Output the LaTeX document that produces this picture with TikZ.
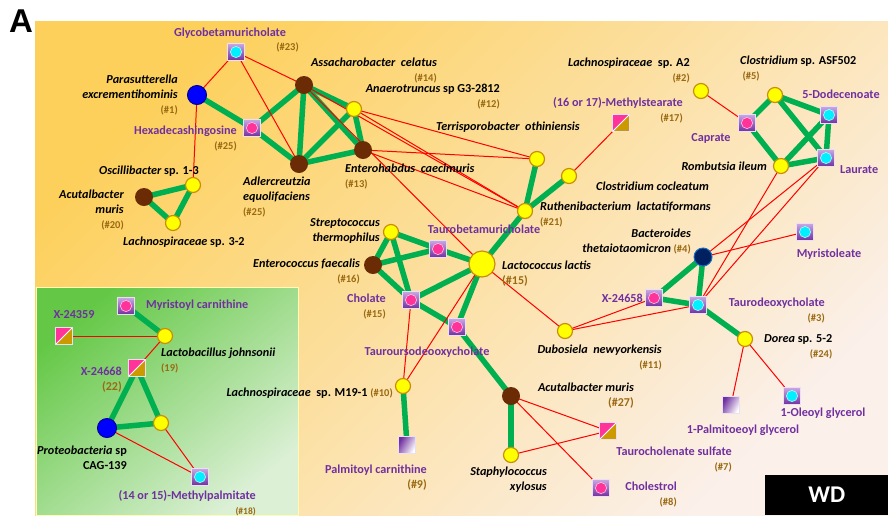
\documentclass[tikz,border=0pt]{standalone}
\usepackage{fontspec}
\setmainfont{Carlito}
\newfontfamily\headfont{Liberation Sans}
\pgfdeclarelayer{bg}
\pgfdeclarelayer{edges}
\pgfsetlayers{bg,edges,main}
\definecolor{gold}{HTML}{C8900A}
\definecolor{yel}{HTML}{FFFF00}
\definecolor{brn}{HTML}{6B2C05}
\definecolor{purp}{HTML}{7030A0}
\definecolor{lpurp}{HTML}{C9A6E4}
\definecolor{mag}{HTML}{FF3399}
\definecolor{cyn}{HTML}{00F0FF}
\definecolor{numc}{HTML}{9A6A12}
\definecolor{grn}{HTML}{00B050}
\definecolor{redl}{HTML}{FF0000}
\definecolor{navy}{HTML}{002060}
\definecolor{splitgold}{HTML}{CC9900}
\newcommand{\nm}[1]{{\color{numc}\fontsize{10.5}{15}\selectfont\upshape #1}}
\newcommand{\nmb}[1]{{\color{numc}\fontsize{12}{15}\selectfont\upshape #1}}
\begin{document}
\begin{tikzpicture}[x=1pt,y=-1pt,
  yc/.style={circle,fill=yel,draw=gold,line width=1.2pt,minimum size=15pt,inner sep=0},
  bc/.style={circle,fill=brn,minimum size=18pt,inner sep=0},
  bluec/.style={circle,fill=blue,draw=blue!60!black,line width=1pt,minimum size=19pt,inner sep=0},
  navyc/.style={circle,fill=navy,draw=cyan!50!blue,line width=1pt,minimum size=18pt,inner sep=0},
  sqbase/.style={rectangle,minimum size=17pt,inner sep=0,draw=white!85!purp,line width=0.8pt},
  sqm/.style={sqbase,top color=lpurp,bottom color=purp,
    path picture={\fill[mag,draw=white!70!mag,line width=0.6pt] (path picture bounding box.center) circle (5.6pt);}},
  sqc/.style={sqbase,top color=lpurp,bottom color=purp,
    path picture={\fill[cyn,draw=white!70!cyn,line width=0.6pt] (path picture bounding box.center) circle (5.6pt);}},
  sqp/.style={sqbase,left color=purp,right color=white,shading angle=60},
  sqs/.style={sqbase,fill=purp,
    path picture={
      \fill[mag] (path picture bounding box.north west) -- (path picture bounding box.north east) -- (path picture bounding box.south west) -- cycle;
      \fill[splitgold] (path picture bounding box.north east) -- (path picture bounding box.south east) -- (path picture bounding box.south west) -- cycle;
      \draw[white,line width=0.8pt] (path picture bounding box.south west) -- (path picture bounding box.north east);}},
  ge/.style={draw=grn,line width=5.5pt},
  re/.style={draw=redl,line width=1pt},
  bac/.style={font=\fontsize{12.2}{15}\selectfont\bfseries\itshape,inner sep=0,text=black},
  met/.style={font=\fontsize{12.2}{15}\selectfont\bfseries,inner sep=0,text=purp},
  num/.style={font=\fontsize{10.5}{15}\selectfont\bfseries,inner sep=0,text=numc},
]
\useasboundingbox (0,0) rectangle (888,515);
\begin{pgfonlayer}{bg}
  \fill[white] (0,0) rectangle (888,515);
  \shade[top color={rgb,255:red,253;green,208;blue,92},bottom color={rgb,255:red,251;green,240;blue,234},shading angle=45] (35,21) rectangle (888,515);
  \shade[top color={rgb,255:red,100;green,200;blue,70},bottom color={rgb,255:red,220;green,240;blue,214},shading angle=40] (36,287) rectangle (298,515);
  \draw[white!70!yellow,line width=0.6pt] (36,287) rectangle (298,515);
\end{pgfonlayer}

\node[font=\headfont\fontsize{33}{33}\selectfont\bfseries,inner sep=0] (letA) at (21,21) {A};
\node[fill=black,minimum width=123pt,minimum height=40pt,inner sep=0,anchor=north west,text=white,font=\fontsize{24}{24}\selectfont\bfseries] (wd) at (765,475) {WD};

% ---- nodes ----
\node[bluec] (para) at (197,95) {};
\node[sqc] (glyco) at (236,52) {};
\node[sqm] (hexa) at (252,128) {};
\node[bc] (assa) at (304,85) {};
\node[yc] (anae) at (354,109) {};
\node[bc] (entero) at (363,150) {};
\node[bc] (adler) at (299,164) {};
\node[yc] (osci) at (193,185) {};
\node[bc] (acut20) at (144,197) {};
\node[yc] (lach32) at (173,223) {};
\node[yc] (terri) at (537,159) {};
\node[yc] (clocl) at (569,176) {};
\node[yc] (ruth) at (525,211) {};
\node[sqs] (mstear) at (621,123) {};
\node[yc] (lacA2) at (701,91) {};
\node[yc] (asf) at (775,95) {};
\node[sqm] (caprate) at (747,123) {};
\node[sqc] (dodec) at (829,115) {};
\node[sqc] (laurate) at (826,158) {};
\node[yc] (romb) at (781,166) {};
\node[yc] (strep) at (391,232) {};
\node[bc] (enteroc) at (373,265) {};
\node[sqm] (tbmc) at (438,249) {};
\node[yc,minimum size=26pt] (lacto) at (482,264) {};
\node[sqm] (cholate) at (411,300) {};
\node[sqm] (tudca) at (457,327) {};
\node[navyc] (bact) at (703,257) {};
\node[sqc] (myrol) at (805,232) {};
\node[sqm] (x24658) at (654,298) {};
\node[sqc] (tdca) at (698,305) {};
\node[yc] (dorea) at (745,339) {};
\node[sqp] (palgly) at (731,405) {};
\node[sqc] (olegly) at (792,396) {};
\node[yc] (dubo) at (565,331) {};
\node[bc] (acut27) at (511,396) {};
\node[yc] (staph) at (511,455) {};
\node[sqs] (tchsulf) at (608,431) {};
\node[sqm] (chol) at (601,488) {};
\node[yc] (m191) at (403,386) {};
\node[sqp] (palcar) at (407,445) {};
\node[sqm] (myrcar) at (126,306) {};
\node[sqs] (x24359) at (64,336) {};
\node[yc] (lactob) at (165,336) {};
\node[sqs] (x24668) at (137,368) {};
\node[bluec] (proteo) at (107,428) {};
\node[yc] (ylow) at (161,423) {};
\node[sqc] (mpalm) at (200,477) {};

% ---- edges ----
\begin{pgfonlayer}{edges}
\foreach \a/\b in {para/hexa,hexa/assa,hexa/adler,assa/adler,assa/anae,assa/entero,anae/adler,anae/entero,adler/entero,
  osci/acut20,osci/lach32,acut20/lach32,terri/ruth,clocl/ruth,ruth/lacto,asf/caprate,asf/dodec,asf/laurate,caprate/romb,
  romb/dodec,romb/laurate,dodec/laurate,strep/tbmc,strep/enteroc,strep/cholate,enteroc/tbmc,enteroc/cholate,tbmc/lacto,
  cholate/lacto,cholate/tudca,lacto/tudca,tudca/acut27,acut27/staph,m191/palcar,bact/x24658,bact/tdca,x24658/tdca,tdca/dorea,
  myrcar/lactob,x24668/proteo,x24668/ylow,proteo/ylow}
  \draw[ge] (\a.center) -- (\b.center);
\foreach \a/\b in {glyco/para,glyco/assa,glyco/adler,para/osci,assa/ruth,assa/lacto,anae/terri,anae/ruth,entero/terri,entero/ruth,
  lacto/dubo,lacto/m191,cholate/m191,dubo/x24658,dubo/tdca,bact/myrol,bact/laurate,romb/tdca,laurate/tdca,dorea/palgly,
  dorea/olegly,acut27/tchsulf,acut27/chol,staph/tchsulf,lacA2/caprate,mstear/clocl,x24359/lactob,x24668/lactob,proteo/mpalm,ylow/mpalm}
  \draw[re] (\a.center) -- (\b.center);
\end{pgfonlayer}

% ---- labels ----
\node[bac,align=right,anchor=east] (lpara) at (178,95) {Parasutterella\\excrementihominis\\\nm{(\#1)}};
\node[met] (lglyco) at (230,33) {Glycobetamuricholate};
\node[num,anchor=east] (nglyco) at (299,47) {(\#23)};
\node[met,align=right,anchor=east] (lhexa) at (237,139) {Hexadecashingosine\\\nm{(\#25)}};
\node[bac,align=right,anchor=east] (lassa) at (437,71) {Assacharobacter\ \ celatus\\\nm{(\#14)}};
\node[bac,align=right,anchor=east] (lanae) at (500,97) {Anaerotruncus {\upshape sp G3-2812}\\\nm{(\#12)}};
\node[bac,anchor=west] (lterri) at (436,127) {Terrisporobacter\ \ othiniensis};
\node[bac,align=left,anchor=west] (lentero) at (345,177) {Enterohabdus\ \ caecimuris\\\nm{(\#13)}};
\node[bac,align=left,anchor=west] (ladler) at (243,197) {Adlercreutzia\\equolifaciens\\\nm{(\#25)}};
\node[bac,anchor=west] (losci) at (99,171) {Oscillibacter\ {\upshape sp. 1-3}};
\node[bac,align=right,anchor=east] (lacut20) at (124,210) {Acutalbacter\\muris\\\nm{(\#20)}};
\node[bac,anchor=west] (llach32) at (123,242) {Lachnospiraceae\ {\upshape sp. 3-2}};
\node[bac,align=right,anchor=east] (llacA2) at (690,71) {Lachnospiraceae\ \ {\upshape sp. A2}\\\nm{(\#2)}};
\node[bac,align=left,anchor=west] (lasf) at (740,69) {Clostridium {\upshape sp. ASF502}\\\nm{\ (\#5)}};
\node[bac,anchor=east] (lromb) at (767,166) {Rombutsia\ ileum};
\node[bac,anchor=west] (lclocl) at (596,186) {Clostridium\ cocleatum};
\node[bac,align=left,anchor=west] (lruth) at (540,215) {Ruthenibacterium\ \ lactatiformans\\\nm{(\#21)}};
\node[bac,align=right,anchor=east] (lstrep) at (380,231) {Streptococcus\\thermophilus};
\node[bac,align=right,anchor=east] (lenteroc) at (360,272) {Enterococcus faecalis\\\nm{(\#16)}};
\node[bac,align=left,anchor=west] (llacto) at (502,274) {Lactococcus lactis\\\nmb{(\#15)}};
\node[bac,align=right,anchor=east] (lbact) at (691,242) {Bacteroides\\thetaiotaomicron \nm{(\#4)}};
\node[bac,align=right,anchor=east] (ldubo) at (662,358) {Dubosiela\ \ newyorkensis\\\nm{(\#11)}};
\node[bac,align=right,anchor=east] (lacut27) at (634,396) {Acutalbacter muris\\\nmb{(\#27)}};
\node[bac,align=right,anchor=east] (lstaph) at (547,480) {Staphylococcus\\xylosus};
\node[bac,anchor=east] (lm191) at (393,393) {Lachnospiraceae\ \ {\upshape sp. M19-1} \nm{(\#10)}};
\node[bac,align=right,anchor=west] (ldorea) at (764,347) {Dorea {\upshape sp. 5-2}\\\nm{(\#24)}};
\node[bac,align=left,anchor=west] (llactob) at (161,361) {Lactobacillus\ johnsonii\\\nm{(19)}};
\node[bac,align=right,anchor=east] (lproteo) at (127,458) {Proteobacteria {\upshape sp}\\{\upshape CAG-139}};

\node[met,align=right,anchor=east] (lmstear) at (683,110) {(16 or 17)-Methylstearate\\\nm{(\#17)}};
\node[met] (lcaprate) at (711,138) {Caprate};
\node[met] (ldodec) at (841,94) {5-Dodecenoate};
\node[met,anchor=west] (llaurate) at (840,170) {Laurate};
\node[met] (ltbmc) at (484,229) {Taurobetamuricholate};
\node[met,align=right,anchor=east] (lcholate) at (386,307) {Cholate\\\nm{(\#15)}};
\node[met] (ltudca) at (427,352) {Tauroursodeooxycholate};
\node[met] (lmyrol) at (829,254) {Myristoleate};
\node[met,anchor=east] (lx24658) at (643,298) {X-24658};
\node[met,align=right,anchor=east] (ltdca) at (825,311) {Taurodeoxycholate\\\nm{(\#3)}};
\node[met] (lpalgly) at (743,430) {1-Palmitoeoyl glycerol};
\node[met] (lolegly) at (823,413) {1-Oleoyl glycerol};
\node[met,align=right,anchor=east] (ltchsulf) at (732,460) {Taurocholenate sulfate\\\nm{(\#7)}};
\node[met,align=right,anchor=east] (lchol) at (677,495) {Cholestrol\\\nm{(\#8)}};
\node[met,align=right,anchor=east] (lpalcar) at (427,478) {Palmitoyl carnithine\\\nmb{(\#9)}};
\node[met,anchor=west] (lmyrcar) at (146,305) {Myristoyl carnithine};
\node[met] (lx24359) at (74,315) {X-24359};
\node[met,align=right,anchor=east] (lx24668) at (122,380) {X-24668\\\nmb{(22)}};
\node[met,align=right,anchor=east] (lmpalm) at (256,503) {(14 or 15)-Methylpalmitate\\{\color{numc}\fontsize{9.5}{15}\selectfont(\#18)}};
\end{tikzpicture}
\end{document}
